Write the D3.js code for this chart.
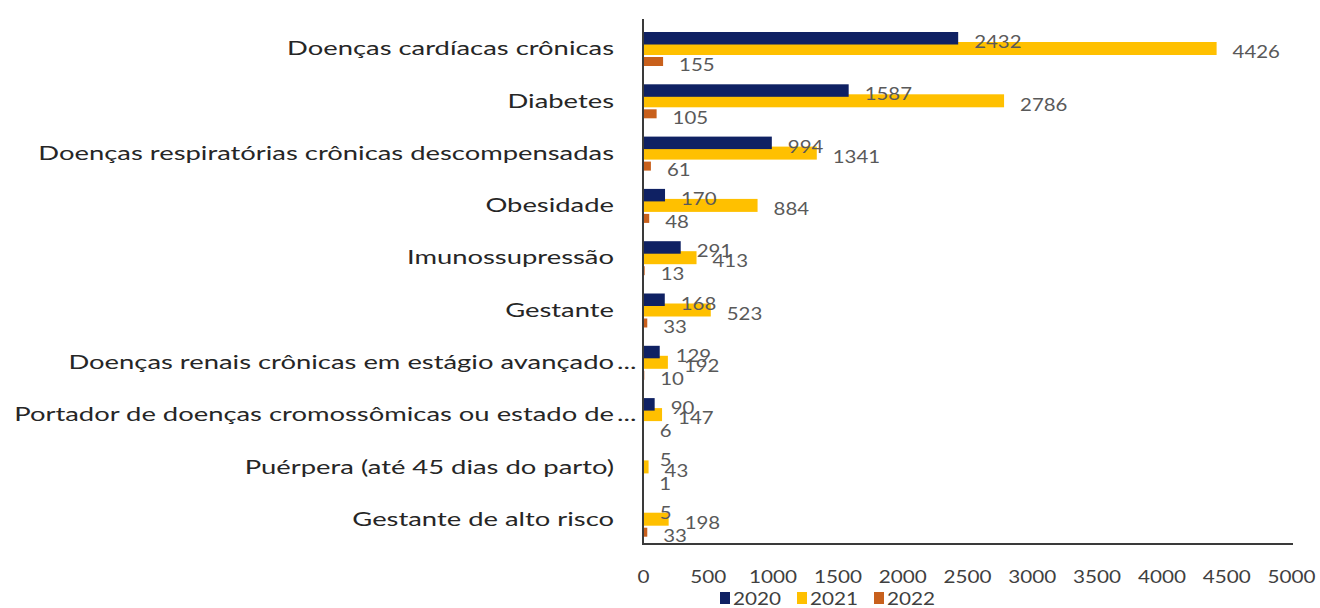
<!DOCTYPE html>
<html>
<head>
<meta charset="utf-8">
<script src="https://d3js.org/d3.v7.min.js"></script>
<style>
  body { margin: 0; background: #fff; }
  svg { display: block; }
  text { font-family: Lato, "Open Sans", sans-serif; }
</style>
</head>
<body>
<script>
// chart data
var categories = [
  "Doenças cardíacas crônicas",
  "Diabetes",
  "Doenças respiratórias crônicas descompensadas",
  "Obesidade",
  "Imunossupressão",
  "Gestante",
  "Doenças renais crônicas em estágio avançado...",
  "Portador de doenças cromossômicas ou estado de...",
  "Puérpera (até 45 dias do parto)",
  "Gestante de alto risco"
];
var years = ["2020", "2021", "2022"];
var values2020 = [2432, 1587, 994, 170, 291, 168, 129, 90, 5, 5];
var values2021 = [4426, 2786, 1341, 884, 413, 523, 192, 147, 43, 198];
var values2022 = [155, 105, 61, 48, 13, 33, 10, 6, 1, 33];
var xTicks = [0, 500, 1000, 1500, 2000, 2500, 3000, 3500, 4000, 4500, 5000];

var w = 1320, h = 608;

// series look: colour and slot inside each category band (top, bottom)
var series = [
  { name: years[1], values: values2021, color: "#ffc000", top: 22, bottom: 35 },
  { name: years[0], values: values2020, color: "#0f2163", top: 12, bottom: 24.5 },
  { name: years[2], values: values2022, color: "#c8601c", top: 37, bottom: 46 }
];

var svg = d3.select("body").append("svg")
  .attr("width", w)
  .attr("height", h);

var xScale = d3.scaleLinear()
  .domain([0, 5000])
  .range([643, 1291]);

var yScale = d3.scaleBand()
  .domain(categories)
  .range([20, 543]);

// bars
series.forEach(function(s) {
  svg.append("g").selectAll("rect")
    .data(categories)
    .enter()
    .append("rect")
    .attr("x", xScale(0))
    .attr("y", function(d) { return yScale(d) + s.top; })
    .attr("width", function(d, i) { return xScale(s.values[i]) - xScale(0); })
    .attr("height", s.bottom - s.top)
    .attr("fill", s.color);
});

// data labels
series.forEach(function(s) {
  svg.append("g").selectAll("text")
    .data(categories)
    .enter()
    .append("text")
    .attr("transform", function(d, i) {
      var x = xScale(s.values[i]) + 16;
      var y = yScale(d) + (s.top + s.bottom) / 2 + 3;
      return "translate(" + x + "," + y + ") scale(1.2,1)";
    })
    .attr("dominant-baseline", "central")
    .attr("font-size", 17)
    .attr("fill", "#595959")
    .text(function(d, i) { return s.values[i]; });
});

// x axis
var xAxis = d3.axisBottom(xScale)
  .tickValues(xTicks)
  .tickSize(0)
  .tickPadding(26)
  .tickFormat(d3.format("d"));

var gx = svg.append("g")
  .attr("transform", "translate(0,544)")
  .call(xAxis);
gx.select(".domain")
  .attr("stroke", "#3a3a3a")
  .attr("stroke-width", 2)
  .attr("d", "M642,0H1293");
gx.selectAll("text")
  .attr("font-size", 18)
  .attr("fill", "#404040")
  .attr("transform", "scale(1.15,1)");

// y axis (vertical line + category names)
var yAxis = d3.axisLeft(yScale).tickSize(0).tickPadding(0);
var gy = svg.append("g")
  .attr("transform", "translate(643,0)")
  .call(yAxis);
gy.select(".domain")
  .attr("stroke", "#3a3a3a")
  .attr("stroke-width", 2)
  .attr("d", "M0,19V545");
gy.selectAll(".tick text")
  .attr("x", 0)
  .attr("dy", null)
  .attr("dominant-baseline", "central")
  .attr("font-size", 18.5)
  .attr("fill", "#262626")
  .attr("transform", "translate(-29,2) scale(1.48,1)")
  .text(function(d) { return d.replace(/\.\.\.$/, ""); });

// the cut labels get their dots just past the text end
gy.selectAll(".tick")
  .filter(function(d) { return /\.\.\.$/.test(d); })
  .append("text")
  .attr("dominant-baseline", "central")
  .attr("font-size", 18.5)
  .attr("fill", "#262626")
  .attr("text-anchor", "start")
  .attr("transform", "translate(-26,2) scale(1.48,1)")
  .text("...");

// legend
var legendItems = [
  { name: years[0], color: "#0f2163" },
  { name: years[1], color: "#ffc000" },
  { name: years[2], color: "#c8601c" }
];
var legend = svg.selectAll(".legend")
  .data(legendItems)
  .enter().append("g")
  .attr("class", "legend")
  .attr("transform", function(d, i) { return "translate(" + (720 + i * 77) + ",598)"; });

legend.append("rect")
  .attr("x", 0)
  .attr("y", -6)
  .attr("width", 10)
  .attr("height", 12)
  .attr("fill", function(d) { return d.color; });

legend.append("text")
  .attr("transform", "translate(13,0) scale(1.15,1)")
  .attr("dominant-baseline", "central")
  .attr("font-size", 18)
  .attr("fill", "#404040")
  .text(function(d) { return d.name; });
</script>
</body>
</html>
